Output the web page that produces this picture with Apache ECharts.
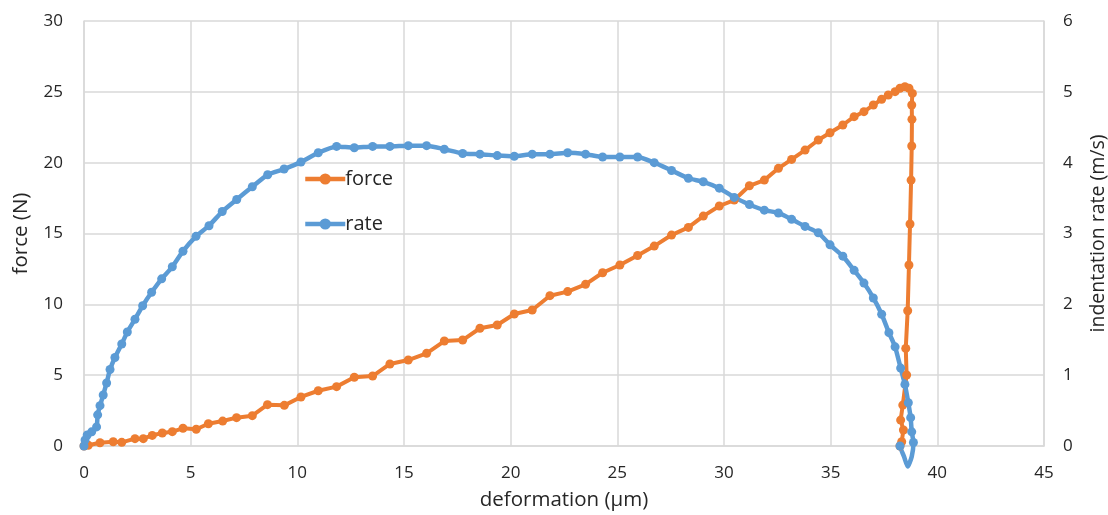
<!DOCTYPE html>
<html>
<head>
<meta charset="utf-8">
<script src="https://cdn.jsdelivr.net/npm/echarts@6/dist/echarts.min.js"></script>
<style>html,body{margin:0;padding:0;background:#fff}#c{width:1108px;height:515px}</style>
</head>
<body>
<div id="c"></div>
<script>
// deformation (µm) values for force series
const forceX = [0,0.2,0.75,1.37,1.77,2.39,2.78,3.2,3.67,4.14,4.64,5.26,5.83,6.5,7.15,7.89,8.6,9.39,10.17,10.98,11.84,12.67,13.53,14.34,15.2,16.06,16.89,17.75,18.56,19.37,20.17,21.01,21.84,22.67,23.51,24.31,25.12,25.95,26.73,27.54,28.33,29.03,29.78,30.48,31.19,31.89,32.55,33.17,33.8,34.42,34.97,35.57,36.1,36.56,37.0,37.39,37.7,38.02,38.25,38.48,38.67,38.83,38.8,38.81,38.8,38.77,38.72,38.67,38.61,38.52,38.56,38.38,38.28,38.41,38.33,38.25];
// force (N)
const forceY = [0,0.05,0.23,0.3,0.26,0.52,0.52,0.75,0.92,1.01,1.25,1.18,1.57,1.76,2.0,2.14,2.92,2.87,3.46,3.9,4.19,4.85,4.94,5.79,6.07,6.54,7.41,7.48,8.31,8.54,9.32,9.6,10.61,10.9,11.41,12.23,12.78,13.45,14.11,14.89,15.43,16.23,16.94,17.36,18.37,18.77,19.6,20.23,20.89,21.6,22.11,22.66,23.25,23.6,24.07,24.47,24.78,25.01,25.25,25.36,25.25,24.89,24.07,23.06,21.18,18.77,15.67,12.78,9.55,6.89,5.01,2.89,1.83,1.13,0.3,0];
// deformation (µm) values for rate series
const rateX = [0,0.05,0.15,0.36,0.59,0.64,0.75,0.9,1.06,1.22,1.45,1.77,2.03,2.39,2.75,3.17,3.64,4.14,4.64,5.25,5.86,6.48,7.16,7.89,8.61,9.38,10.17,10.98,11.84,12.67,13.53,14.34,15.2,16.06,16.89,17.75,18.56,19.37,20.17,21.01,21.84,22.67,23.51,24.31,25.12,25.95,26.73,27.54,28.33,29.03,29.78,30.48,31.19,31.89,32.55,33.17,33.8,34.42,34.97,35.57,36.1,36.56,37.0,37.39,37.73,38.02,38.28,38.48,38.64,38.75,38.8,38.88,38.8,38.61,38.44,38.3,38.25];
// indentation rate (m/s)
const rateY = [0,0.085,0.155,0.2,0.27,0.44,0.57,0.72,0.89,1.08,1.25,1.44,1.61,1.79,1.98,2.17,2.36,2.53,2.75,2.96,3.11,3.31,3.48,3.66,3.83,3.91,4.01,4.14,4.23,4.21,4.23,4.23,4.24,4.24,4.19,4.13,4.12,4.1,4.09,4.12,4.12,4.14,4.12,4.08,4.08,4.08,4.0,3.89,3.78,3.73,3.64,3.51,3.41,3.33,3.29,3.2,3.1,3.01,2.84,2.68,2.48,2.3,2.09,1.86,1.6,1.4,1.1,0.87,0.61,0.4,0.2,0.05,-0.15,-0.29,-0.15,-0.05,0];
const xTicks = [0,5,10,15,20,25,30,35,40,45];
const seriesNames = ['force','rate'];

const FONT = '"Open Sans", Lato, sans-serif';
const TXT = '#262626';
const GRID = '#d9d9d9';
const chart = echarts.init(document.getElementById('c'));
const pair = (xs, ys) => xs.map((x, i) => [x, ys[i]]);
chart.setOption({
  animation: false,
  textStyle: { fontFamily: FONT },
  grid: { left: 84, right: 64, top: 21, bottom: 69, containLabel: false, outerBoundsMode: 'none' },
  legend: {
    orient: 'vertical', left: 298, top: 164,
    itemWidth: 40, itemHeight: 14, itemGap: 25,
    lineStyle: { width: 4.5 },
    textStyle: { fontFamily: FONT, fontSize: 20, color: TXT, padding: [0,0,0,-5] },
    data: seriesNames
  },
  xAxis: {
    type: 'value', min: xTicks[0], max: xTicks[xTicks.length-1], interval: 5,
    name: 'deformation (\u00b5m)', nameLocation: 'middle', nameGap: 44,
    nameTextStyle: { fontFamily: FONT, fontSize: 20.5, color: TXT },
    axisLine: { show: true, lineStyle: { color: GRID, width: 1.5 } },
    axisTick: { show: false },
    axisLabel: { fontFamily: FONT, fontSize: 17, color: TXT, margin: 19 },
    splitLine: { show: true, lineStyle: { color: GRID, width: 1.5 } }
  },
  yAxis: [{
    type: 'value', min: 0, max: 30, interval: 5,
    name: 'force (N)', nameLocation: 'middle', nameGap: 52, nameRotate: 90,
    nameTextStyle: { fontFamily: FONT, fontSize: 20.5, color: TXT },
    axisLine: { show: true, lineStyle: { color: GRID, width: 1.5 } },
    axisTick: { show: false },
    axisLabel: { fontFamily: FONT, fontSize: 17, color: TXT, margin: 21 },
    splitLine: { show: true, lineStyle: { color: GRID, width: 1.5 } }
  }, {
    type: 'value', min: 0, max: 6, interval: 1, position: 'right',
    name: 'indentation rate (m/s)', nameLocation: 'middle', nameGap: 44, nameRotate: 90,
    nameTextStyle: { fontFamily: FONT, fontSize: 19.5, color: TXT },
    axisLine: { show: true, lineStyle: { color: GRID, width: 1.5 } },
    axisTick: { show: false },
    axisLabel: { fontFamily: FONT, fontSize: 17, color: TXT, margin: 19 },
    splitLine: { show: false }
  }],
  series: [{
    name: seriesNames[0], type: 'line', yAxisIndex: 0,
    data: pair(forceX, forceY),
    color: '#ED7D31', symbol: 'circle', symbolSize: 9,
    lineStyle: { width: 4, color: '#ED7D31' }, itemStyle: { color: '#ED7D31' },
    clip: false
  }, {
    name: seriesNames[1], type: 'line', yAxisIndex: 1,
    data: pair(rateX, rateY),
    color: '#5B9BD5', symbol: 'circle',
    symbolSize: v => (v[1] < -0.02 ? 0 : 9),
    lineStyle: { width: 4.5, color: '#5B9BD5' }, itemStyle: { color: '#5B9BD5' },
    clip: false, smooth: 0.2
  }]
});
</script>
</body>
</html>
